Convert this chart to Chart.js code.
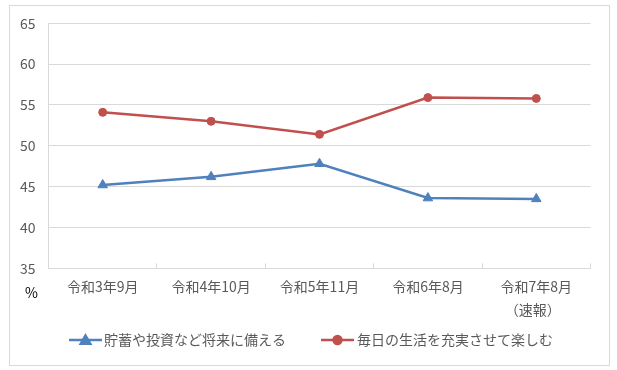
<!DOCTYPE html>
<html><head><meta charset="utf-8">
<script src="https://cdn.jsdelivr.net/npm/chart.js@4"></script>
<style>
html,body{margin:0;padding:0;background:#fff;}
#wrap{position:relative;width:617px;height:370px;}
#frame{position:absolute;left:9px;top:5px;width:599px;height:359px;border:1px solid #d9d9d9;pointer-events:none;}
canvas{position:absolute;left:0;top:0;}
</style></head>
<body>
<div id="wrap"><canvas id="c" width="617" height="370"></canvas><div id="frame"></div></div>
<script>
const categories = ['令和3年9月', '令和4年10月', '令和5年11月', '令和6年8月', '令和7年8月'];
const lastNote = '（速報）　';
const seriesNames = ['貯蓄や投資など将来に備える', '毎日の生活を充実させて楽しむ'];
const savingValues = [45.2, 46.2, 47.8, 43.6, 43.5];
const enjoyValues = [54.1, 53.0, 51.4, 55.9, 55.8];
const yTicks = [35, 40, 45, 50, 55, 60, 65];
const unitLabel = '%';

const FONT = '"Noto Sans CJK JP", "Noto Sans", sans-serif';
const GRAY = '#595959';
const GRID = '#d9d9d9';
const BLUE = '#4f81bd';
const RED = '#c0504d';

const labels = categories.map((c, i) => i === categories.length - 1 ? [c, lastNote] : c);

const legendPlugin = {
  id: 'customLegend',
  afterDraw(chart) {
    const ctx = chart.ctx;
    ctx.save();
    const y = 340;
    const items = [
      {x0: 69, x1: 102, tx: 104, color: BLUE, style: 'triangle', r: 5.5, text: seriesNames[0]},
      {x0: 321, x1: 354, tx: 357, color: RED, style: 'circle', r: 4, text: seriesNames[1]}
    ];
    items.forEach(it => {
      ctx.strokeStyle = it.color;
      ctx.lineWidth = 2.5;
      ctx.beginPath();
      ctx.moveTo(it.x0, y);
      ctx.lineTo(it.x1, y);
      ctx.stroke();
      ctx.fillStyle = it.color;
      Chart.helpers.drawPoint(ctx, {pointStyle: it.style, radius: it.r, borderWidth: 1}, (it.x0 + it.x1) / 2, it.style === 'triangle' ? y + 1 : y);
      ctx.fillStyle = GRAY;
      ctx.font = '14px ' + FONT;
      ctx.textBaseline = 'middle';
      ctx.textAlign = 'left';
      ctx.fillText(it.text, it.tx, y);
    });
    ctx.fillStyle = '#000';
    ctx.font = '14px ' + FONT;
    ctx.textAlign = 'center';
    ctx.textBaseline = 'middle';
    ctx.fillText(unitLabel, 31.5, 293);
    ctx.restore();
  }
};

new Chart(document.getElementById('c'), {
  type: 'line',
  data: {
    labels: labels,
    datasets: [
      {label: seriesNames[0], data: savingValues, borderColor: BLUE, backgroundColor: BLUE,
       borderWidth: 2.5, pointStyle: 'triangle', pointRadius: 5.5, pointHoverRadius: 5.5,
       pointBorderWidth: 1, tension: 0},
      {label: seriesNames[1], data: enjoyValues, borderColor: RED, backgroundColor: RED,
       borderWidth: 2.5, pointStyle: 'circle', pointRadius: 4, pointHoverRadius: 4,
       pointBorderWidth: 1, tension: 0}
    ]
  },
  options: {
    responsive: false,
    animation: false,
    events: [],
    layout: {padding: {left: 0, right: 26.5, top: 23.3, bottom: 0}},
    plugins: {legend: {display: false}, tooltip: {enabled: false}},
    scales: {
      x: {
        offset: true,
        grid: {offset: true, drawOnChartArea: false, drawTicks: true, tickLength: -5, color: GRID, lineWidth: 1},
        border: {display: true, color: GRID, width: 1},
        ticks: {color: GRAY, font: {family: FONT, size: 14, lineHeight: 23 / 14}, padding: 12, maxRotation: 0, autoSkip: false},
        afterFit(s) { s.height = 370 - 268.3; }
      },
      y: {
        min: 35, max: 65,
        afterBuildTicks(s) { s.ticks = yTicks.map(v => ({value: v})); },
        grid: {color: GRID, lineWidth: 1, drawTicks: false},
        border: {display: true, color: GRID, width: 1},
        ticks: {color: GRAY, font: {family: FONT, size: 14}, padding: 13},
        afterFit(s) { s.width = 48.5; }
      }
    }
  },
  plugins: [legendPlugin]
});
</script>
</body></html>
